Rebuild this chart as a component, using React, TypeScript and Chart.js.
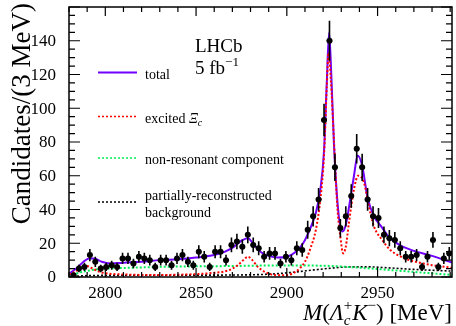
import { useEffect, useRef } from 'react';
import { Chart, registerables } from 'chart.js';
Chart.register(...registerables);

// ---- data ----
const binStart = 2781;
const binWidth = 3;
const counts = [
  1, 5, 6, 13, 9, 5, 6, 7, 6, 11,
  11, 8, 12, 11, 10, 6, 10, 10, 7, 11,
  13, 9, 7, 15, 12, 6, 15, 15, 10, 19,
  21, 18, 25, 19, 17, 12, 14, 14, 8, 12,
  10, 17, 16, 28, 36, 46, 93, 140, 65, 29,
  36, 48, 76, 65, 46, 36, 35, 25, 23, 22,
  17, 12, 12, 13, 6, 12, 22, 6, 11, 14,
];

const totalX = [2780, 2784, 2788, 2791, 2794, 2798, 2803, 2810, 2820, 2830, 2840, 2850, 2860, 2866, 2871, 2875, 2878.5, 2882, 2886, 2890, 2895, 2900, 2905, 2909, 2913, 2916, 2918.5, 2920.5, 2922, 2923.3, 2924.5, 2926, 2927.5, 2929, 2930.7, 2932.5, 2934.5, 2937, 2939, 2941.5, 2944.5, 2948, 2952, 2956, 2962, 2970, 2980, 2991];
const totalY = [2, 5, 9, 11, 11, 9, 8, 8.5, 9, 10, 10.5, 11.5, 13, 15, 18, 21.5, 23, 19, 14.5, 12.5, 11.5, 12, 15, 20, 29, 38, 52, 75, 115, 145, 120, 78, 50, 33, 27, 31, 43, 60, 72, 66, 47, 36, 30, 24, 19, 15.5, 12.5, 8.5];

const xiX = [2780, 2784, 2787, 2790, 2793, 2797, 2802, 2810, 2825, 2845, 2860, 2868, 2873, 2876.5, 2878.5, 2881, 2884, 2888, 2893, 2898, 2903, 2907, 2910, 2913, 2916, 2918.7, 2920.5, 2922, 2923, 2924.2, 2926, 2927.8, 2929.7, 2931, 2932.5, 2934.2, 2937, 2939.3, 2942.5, 2945.2, 2948, 2952.5, 2957, 2962, 2966, 2971, 2980, 2991];
const xiY = [1.5, 3.5, 5.5, 6.5, 5, 3, 2, 1.5, 1.2, 1.5, 2.5, 4, 7, 10.5, 12, 10, 6, 3, 1.2, 1, 2, 5, 9, 17, 28, 48, 72, 112, 133, 118, 80, 42, 22, 14, 18, 32, 52, 60, 56, 42, 30, 22, 16, 12.5, 10.5, 9, 7, 5.5];

const nrX = [2780, 2783, 2787, 2792, 2800, 2815, 2830, 2850, 2870, 2890, 2910, 2925, 2940, 2955, 2970, 2982, 2991];
const nrY = [0, 1.5, 3, 4, 5, 5.5, 6, 6.3, 6.5, 6.8, 6.8, 6.5, 5.5, 4.3, 3, 2, 1.2];

const prX = [2780, 2790, 2810, 2850, 2880, 2895, 2905, 2915, 2925, 2935, 2945, 2955, 2970, 2991];
const prY = [0.3, 0.8, 1.0, 1.1, 1.3, 2, 3, 4.2, 5.3, 6, 6, 5.5, 4.5, 3.5];

const xMajorTicks = [2800, 2850, 2900, 2950];
const yMajorTicks = [0, 20, 40, 60, 80, 100, 120, 140];

const FONT = '"Liberation Serif", "Times New Roman", serif';
const PURPLE = '#7000ff';
const RED = '#ff0000';
const GREEN = '#00ee55';
const BLACK = '#000000';

type Part = { t: string; s?: number; it?: boolean; dy?: number; stack?: boolean };

function richWidth(ctx: CanvasRenderingContext2D, parts: Part[], size: number) {
  let w = 0;
  let lastW = 0;
  for (const p of parts) {
    ctx.font = `${p.it ? 'italic ' : ''}${Math.round(size * (p.s ?? 1))}px ${FONT}`;
    const pw = ctx.measureText(p.t).width;
    if (p.stack) {
      if (pw > lastW) { w += pw - lastW; lastW = pw; }
    } else { w += pw; lastW = pw; }
  }
  return w;
}

function drawRich(ctx: CanvasRenderingContext2D, parts: Part[], x: number, y: number, size: number, align: 'left' | 'right') {
  let cx = align === 'right' ? x - richWidth(ctx, parts, size) : x;
  let lastStart = cx;
  let lastW = 0;
  ctx.textAlign = 'left';
  ctx.textBaseline = 'alphabetic';
  for (const p of parts) {
    ctx.font = `${p.it ? 'italic ' : ''}${Math.round(size * (p.s ?? 1))}px ${FONT}`;
    const pw = ctx.measureText(p.t).width;
    if (p.stack) {
      ctx.fillText(p.t, lastStart, y + (p.dy ?? 0));
      if (pw > lastW) { cx = lastStart + pw; lastW = pw; }
    } else {
      ctx.fillText(p.t, cx, y + (p.dy ?? 0));
      lastStart = cx; lastW = pw; cx += pw;
    }
  }
}

const decorPlugin = {
  id: 'decor',
  afterDatasetsDraw(chart: any) {
    const ctx: CanvasRenderingContext2D = chart.ctx;
    const xs = chart.scales.x;
    const ys = chart.scales.y;
    // error bars
    ctx.save();
    ctx.strokeStyle = BLACK;
    ctx.lineWidth = 1.6;
    counts.forEach((c, i) => {
      const m = binStart + binWidth * (i + 0.5);
      const px = xs.getPixelForValue(m);
      const py = ys.getPixelForValue(c);
      const e = Math.sqrt(c);
      ctx.beginPath();
      ctx.moveTo(px, Math.min(ys.getPixelForValue(c + e), ys.bottom));
      ctx.lineTo(px, Math.min(ys.getPixelForValue(Math.max(c - e, 0)), ys.bottom));
      ctx.moveTo(xs.getPixelForValue(m - binWidth / 2), py);
      ctx.lineTo(xs.getPixelForValue(m + binWidth / 2), py);
      ctx.stroke();
    });
    ctx.restore();
  },
  afterDraw(chart: any) {
    const ctx: CanvasRenderingContext2D = chart.ctx;
    const a = chart.chartArea;
    const xs = chart.scales.x;
    const ys = chart.scales.y;
    ctx.save();
    ctx.strokeStyle = BLACK;
    ctx.fillStyle = BLACK;
    ctx.lineWidth = 1.5;
    ctx.strokeRect(a.left, a.top, a.right - a.left, a.bottom - a.top);
    ctx.lineWidth = 1.2;
    ctx.beginPath();
    for (let v = 2780; v <= 2991; v += 10) {
      const px = xs.getPixelForValue(v);
      const len = xMajorTicks.includes(v) ? 9 : 5;
      ctx.moveTo(px, a.bottom); ctx.lineTo(px, a.bottom - len);
      ctx.moveTo(px, a.top); ctx.lineTo(px, a.top + len);
    }
    for (let v = 0; v <= 160; v += 5) {
      const py = ys.getPixelForValue(v);
      const len = v % 20 === 0 ? 11 : 6;
      ctx.moveTo(a.left, py); ctx.lineTo(a.left + len, py);
      ctx.moveTo(a.right, py); ctx.lineTo(a.right - len, py);
    }
    ctx.stroke();

    // tick labels
    ctx.font = `17px ${FONT}`;
    ctx.textAlign = 'center';
    ctx.textBaseline = 'top';
    xMajorTicks.forEach((v) => ctx.fillText(String(v), xs.getPixelForValue(v), a.bottom + 8));
    ctx.textAlign = 'right';
    ctx.textBaseline = 'middle';
    yMajorTicks.forEach((v) => ctx.fillText(String(v), a.left - 13, ys.getPixelForValue(v) + 1));

    // axis titles
    ctx.save();
    ctx.translate(30, 3);
    ctx.rotate(-Math.PI / 2);
    ctx.font = `27px ${FONT}`;
    ctx.textAlign = 'right';
    ctx.textBaseline = 'alphabetic';
    ctx.fillText('Candidates/(3 MeV)', 0, 0);
    ctx.restore();

    drawRich(ctx, [
      { t: 'M', it: true }, { t: '(' }, { t: 'Λ', it: true },
      { t: '+', s: 0.65, dy: -10 }, { t: 'c', s: 0.65, it: true, dy: 5, stack: true },
      { t: 'K', it: true }, { t: '−', s: 0.65, dy: -10 }, { t: ')' }, { t: ' [MeV]' },
    ], a.right, 320, 23, 'right');

    // LHCb label
    ctx.font = `19px ${FONT}`;
    ctx.textAlign = 'left';
    ctx.textBaseline = 'alphabetic';
    ctx.fillText('LHCb', 195, 52);
    drawRich(ctx, [{ t: '5 fb' }, { t: '−1', s: 0.7, dy: -8 }], 195, 74, 19, 'left');

    // legend
    const entries: { color: string; dash: number[]; width: number; y: number; lines: Part[][] }[] = [
      { color: PURPLE, dash: [], width: 2, y: 72.5, lines: [[{ t: 'total' }]] },
      { color: RED, dash: [2, 2], width: 1.5, y: 116.5, lines: [[{ t: 'excited ' }, { t: 'Ξ', it: true }, { t: 'c', it: true, s: 0.7, dy: 3 }]] },
      { color: GREEN, dash: [2, 2], width: 1.5, y: 158, lines: [[{ t: 'non-resonant component' }]] },
      { color: BLACK, dash: [2, 2], width: 1.5, y: 202, lines: [[{ t: 'partially-reconstructed' }], [{ t: 'background' }]] },
    ];
    entries.forEach((e) => {
      ctx.save();
      ctx.strokeStyle = e.color;
      ctx.lineWidth = e.width;
      ctx.setLineDash(e.dash);
      ctx.beginPath();
      ctx.moveTo(98, e.y); ctx.lineTo(137, e.y);
      ctx.stroke();
      ctx.restore();
      const n = e.lines.length;
      e.lines.forEach((ln, k) => {
        const by = e.y + 6 + (k - (n - 1) / 2) * 17;
        drawRich(ctx, ln, 145, by, 14, 'left');
      });
    });
    ctx.restore();
  },
};

function pts(xs: number[], ys: number[]) {
  return xs.map((x, i) => ({ x, y: ys[i] }));
}

export default function App() {
  const ref = useRef<HTMLCanvasElement>(null);
  useEffect(() => {
    const dataPts = counts.map((c, i) => ({ x: binStart + binWidth * (i + 0.5), y: c }));
    const curve = (label: string, data: any[], color: string, dash: number[], width: number) => ({
      label, data, borderColor: color, backgroundColor: color, borderDash: dash, borderWidth: width,
      pointRadius: 0, fill: false, cubicInterpolationMode: 'monotone' as const, showLine: true,
    });
    const chart = new Chart(ref.current!, {
      type: 'line',
      data: {
        datasets: [
          { label: 'data', data: dataPts, showLine: false, pointRadius: 3, pointBackgroundColor: BLACK, pointBorderWidth: 0, borderColor: BLACK },
          curve('excited', pts(xiX, xiY), RED, [2, 2], 2),
          curve('nonres', pts(nrX, nrY), GREEN, [2, 2], 2),
          curve('partial', pts(prX, prY), BLACK, [2, 2], 1.6),
          curve('total', pts(totalX, totalY), PURPLE, [], 2),
        ] as any,
      },
      options: {
        responsive: false,
        animation: false,
        devicePixelRatio: 1,
        layout: { padding: { left: 69, right: 3, top: 7, bottom: 49 } },
        plugins: { legend: { display: false }, tooltip: { enabled: false } },
        scales: {
          x: { type: 'linear', min: 2780, max: 2991, display: false },
          y: { type: 'linear', min: 0, max: 160, display: false },
        },
      },
      plugins: [decorPlugin],
    });
    return () => chart.destroy();
  }, []);
  return (
    <div style={{ position: 'fixed', left: 0, top: 0, width: 456, height: 326, background: '#fff' }}>
      <canvas ref={ref} width={456} height={326} style={{ display: 'block' }} />
    </div>
  );
}
